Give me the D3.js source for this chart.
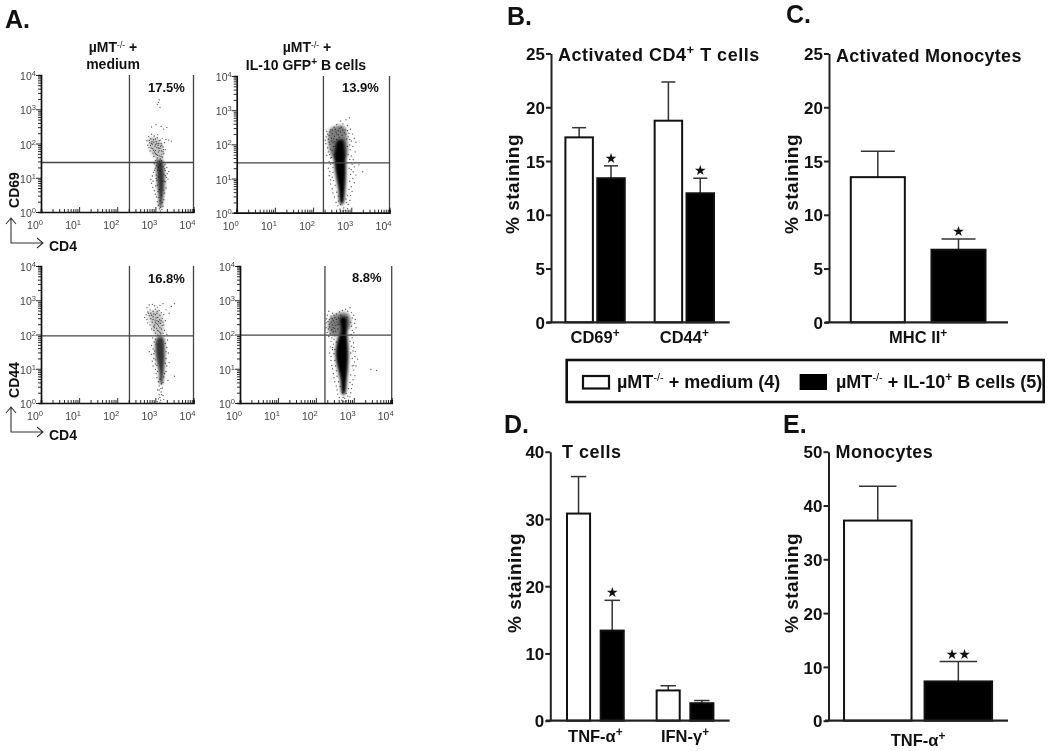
<!DOCTYPE html>
<html><head><meta charset="utf-8">
<script src="https://cdn.jsdelivr.net/npm/d3@7"></script>
<style>
html,body{margin:0;background:#fff}
svg{display:block;opacity:.999}
text{font-family:"Liberation Sans",Arial,sans-serif}
</style></head><body>
<svg id="c" width="1050" height="751"></svg>
<script>
// ---------- Bar data ----------
const bCats=["CD69|+","CD44|+"], bMedium=[17.2,18.75], bMediumTop=[18.1,22.35], bBcells=[13.4,12.0], bBcellsTop=[14.55,13.4], bStars=["★","★"];
const cCats=["MHC II|+"], cMedium=[13.5], cMediumTop=[15.9], cBcells=[6.75], cBcellsTop=[7.75], cStars=["★"];
const dCats=["TNF-α|+","IFN-γ|+"], dMedium=[30.8,4.5], dMediumTop=[36.3,5.2], dBcells=[13.4,2.6], dBcellsTop=[17.9,3.0], dStars=["★",""];
const eCats=["TNF-α|+"], eMedium=[37.2], eMediumTop=[43.6], eBcells=[7.3], eBcellsTop=[11], eStars=["★★"];
const ticks25=[0,5,10,15,20,25], ticks40=[0,10,20,30,40], ticks50=[0,10,20,30,40,50];
const groupNames=["medium","bcells"];
// ---------- Flow data: log10(CD4), log10(marker) ----------
const flowDecades=[0,1,2,3,4];
const p1Cells=[[3.08,3.2],[3.12,3.05],[3.05,3.14],[3.1,3.28],[2.9,2.48],[3.02,2.55],[3.15,2.5],[3.3,2.47],[3.22,2.42],[2.78,2.08],[2.82,2.2],[2.85,2.02],[2.88,2.14],[2.9,2.27],[2.8,1.95],[2.83,1.88],[2.92,1.98],[2.95,2.11],[2.97,2.22],[2.99,1.92],[3.02,2.05],[3.05,2.17],[3.07,1.95],[3.1,2.08],[3.12,1.86],[3.15,2.0],[3.18,2.15],[3.2,1.9],[3.24,2.02],[3.28,2.12],[3.35,2.1],[3.42,2.07],[2.86,1.78],[2.94,1.72],[3.0,1.8],[3.03,1.68],[3.08,1.75],[3.11,1.64],[3.16,1.78],[3.22,1.7],[3.26,1.82],[2.96,1.62],[3.05,1.58],[3.13,1.55],[3.19,1.6],[2.84,2.09],[2.91,2.05],[2.93,1.85],[3.01,1.97],[3.04,1.88],[3.09,2.0],[3.14,1.92],[2.87,1.94],[3.06,2.26],[2.98,1.75],[3.17,1.69],[2.97,1.41],[3.03,1.35],[3.27,1.44],[3.3,1.3],[2.98,1.22],[3.31,1.12],[2.92,1.05],[2.95,1.16],[3.29,1.01],[2.88,0.95],[2.9,0.84],[3.0,1.28],[3.26,1.21],[3.27,0.88],[2.93,0.72],[2.97,0.62],[3.0,0.52],[3.28,0.7],[3.24,0.55],[3.03,0.44],[3.05,0.3],[3.22,0.36],[3.08,0.2],[3.2,0.16],[3.11,0.09],[3.17,0.07],[3.13,0.03],[3.02,1.08],[3.04,0.92],[3.01,0.76],[3.25,1.38],[3.05,1.45],[3.07,0.6],[3.09,0.42],[3.18,0.28],[3.14,0.14],[2.94,0.9],[3.33,0.96],[3.35,1.18],
[2.9,2.0],[2.96,2.04],[3.0,2.13],[3.04,2.0],[3.08,1.87],[3.13,2.1],[3.17,1.95],[3.21,1.82],[2.89,1.87],[2.95,1.8],[3.0,1.7],[3.06,1.66],[3.1,1.8],[3.15,1.62],[3.2,1.76],[3.04,1.52],[3.1,1.48],[3.16,1.5],[3.0,1.5],[3.06,1.22],[3.08,1.02],[3.22,1.1],[3.24,0.9],[3.05,0.78],[3.22,0.64],[3.1,0.66],[3.16,0.5],[3.12,0.32],[3.18,0.9],[3.12,1.2],[3.2,1.32],[3.14,1.4],[3.08,1.3],[3.24,1.26],[3.02,0.98],[3.26,1.06]];
const p2Cells=[[2.95,2.78],[2.86,2.72],[2.72,2.68],[2.78,2.6],[2.62,2.58],[2.9,2.55],[2.55,2.5],[2.7,2.47],[2.98,2.44],[2.46,2.42],[2.36,2.38],[2.6,2.36],[2.82,2.34],[2.5,2.31],[3.03,2.3],[2.34,2.22],[2.42,2.26],[2.56,2.24],[2.68,2.21],[2.92,2.22],[3.08,2.18],[2.32,2.12],[2.4,2.15],[2.49,2.1],[2.62,2.14],[3.0,2.1],[3.12,2.06],[2.33,2.02],[2.44,2.0],[2.52,2.05],[2.96,1.98],[3.04,1.94],[2.38,1.9],[2.46,1.86],[2.53,1.94],[2.97,1.84],[3.1,1.78],[2.4,1.78],[2.36,1.68],[2.43,1.7],[2.48,1.62],[3.0,1.66],[3.05,1.55],[2.42,1.5],[2.46,1.42],[3.02,1.42],[3.08,1.34],[2.4,1.3],[2.44,1.2],[3.05,1.2],[3.12,1.1],[2.42,1.08],[2.46,0.96],[3.04,1.0],[3.08,0.88],[2.46,0.84],[2.5,0.7],[3.0,0.76],[3.02,0.62],[2.52,0.58],[2.56,0.46],[2.98,0.5],[2.96,0.36],[2.6,0.3],[2.65,0.2],[2.92,0.24],[2.9,0.12],[2.7,0.1],[2.76,0.05],[2.84,0.06],[2.8,0.14],[2.72,0.24],[2.88,0.3],[2.66,0.34],[3.2,1.4],[3.3,1.2],[2.58,2.44],[2.66,2.4],[2.74,2.5],[2.84,2.42],[2.38,2.3],[2.48,2.18],[2.44,2.36],[2.9,2.4],[2.54,2.16],
[2.5,2.42],[2.62,2.3],[2.72,2.36],[2.78,2.42],[2.86,2.3],[2.94,2.32],[2.42,2.06],[2.56,2.08],[2.66,2.28],[2.76,2.26],[2.88,2.16],[2.96,2.14],[2.5,1.82],[2.56,1.7],[2.92,1.7],[2.96,1.56],[2.52,1.46],[2.94,1.3],[2.52,1.18],[2.98,1.12],[2.54,0.94],[2.96,0.92],[2.58,0.8],[2.94,0.68],[2.62,0.6],[2.9,0.5],[2.66,0.48],[2.86,0.4],[2.74,0.36],[2.52,1.32],[2.5,1.04],[3.0,1.26],[2.46,1.6],[2.58,1.94],[2.9,1.94]];
const p3Cells=[[3.42,2.82],[3.5,2.9],[2.78,2.78],[2.84,2.86],[2.92,2.88],[2.98,2.84],[3.05,2.8],[3.12,2.85],[3.2,2.9],[3.28,2.72],[3.36,2.62],[2.76,2.58],[2.8,2.66],[2.86,2.72],[2.94,2.68],[3.0,2.74],[3.04,2.62],[3.1,2.7],[3.16,2.64],[3.22,2.58],[2.72,2.5],[2.78,2.44],[2.84,2.55],[2.88,2.46],[2.94,2.52],[2.99,2.42],[3.06,2.5],[3.11,2.43],[3.18,2.47],[3.26,2.4],[2.8,2.34],[2.86,2.28],[2.92,2.36],[2.96,2.24],[3.02,2.32],[3.08,2.25],[3.14,2.33],[3.22,2.28],[2.9,2.16],[2.96,2.12],[3.03,2.18],[3.09,2.1],[3.16,2.16],[3.24,2.12],[3.0,2.04],[3.06,1.98],[3.14,2.02],[3.3,2.0],[2.93,1.9],[2.97,1.78],[3.32,1.84],[2.9,1.68],[2.94,1.58],[3.3,1.62],[2.84,1.5],[2.9,1.42],[3.34,1.46],[2.96,1.3],[2.92,1.22],[3.28,1.3],[2.94,1.08],[3.0,1.14],[3.3,1.08],[3.0,0.98],[3.02,0.86],[3.28,0.92],[3.04,0.74],[3.22,0.76],[3.08,0.62],[3.2,0.6],[3.1,0.5],[3.18,0.44],[3.06,0.38],[3.15,0.32],[3.1,0.24],[3.2,0.22],[3.08,0.12],[3.14,0.08],[3.22,0.1],[3.05,0.04],[3.12,0.02],[3.5,0.78],[3.36,1.18],[3.33,0.66],[2.88,2.62],[3.0,2.58],[3.08,2.38],[2.98,2.28],[3.12,2.56],[3.2,2.36],[2.82,2.62],[3.05,2.68],
[2.9,2.56],[2.96,2.6],[3.02,2.48],[3.04,2.4],[2.94,2.44],[3.0,2.36],[3.06,2.3],[3.12,2.2],[3.18,2.26],[3.1,2.34],[3.15,2.4],[2.97,2.2],[3.06,2.12],[3.12,2.06],[3.2,2.04],[3.0,1.86],[3.02,1.72],[3.26,1.74],[2.98,1.52],[2.96,1.44],[3.28,1.5],[3.0,1.26],[3.26,1.16],[3.04,1.1],[3.06,0.92],[3.24,0.86],[3.12,0.7],[3.16,0.56],[3.14,0.42],[3.12,0.16],[3.16,0.24],[3.1,0.38]];
const p4Cells=[[2.9,2.78],[2.78,2.74],[2.7,2.7],[2.84,2.68],[2.62,2.66],[2.94,2.64],[2.34,2.68],[2.44,2.62],[2.54,2.6],[3.0,2.56],[2.3,2.56],[2.4,2.54],[2.5,2.5],[2.96,2.48],[3.04,2.44],[2.28,2.46],[2.36,2.44],[2.46,2.4],[2.56,2.36],[2.92,2.36],[3.02,2.32],[2.28,2.34],[2.36,2.3],[2.44,2.28],[2.52,2.26],[2.94,2.24],[3.06,2.2],[2.27,2.2],[2.33,2.16],[2.42,2.14],[2.5,2.18],[2.96,2.12],[3.0,2.06],[2.3,2.06],[2.38,2.02],[2.46,2.08],[2.93,2.0],[2.34,1.94],[2.42,1.9],[2.5,1.96],[2.96,1.9],[2.4,1.8],[2.46,1.72],[2.99,1.76],[2.38,1.64],[2.44,1.56],[3.0,1.62],[3.04,1.5],[2.36,1.46],[2.4,1.36],[3.03,1.36],[3.1,1.28],[2.4,1.24],[2.42,1.1],[3.02,1.2],[3.06,1.08],[2.44,1.0],[2.46,0.86],[3.0,0.96],[3.03,0.8],[2.48,0.74],[2.5,0.62],[2.98,0.68],[2.96,0.54],[2.54,0.5],[2.56,0.38],[2.94,0.42],[2.92,0.3],[2.58,0.26],[2.62,0.16],[2.9,0.18],[2.86,0.08],[2.68,0.08],[2.74,0.04],[2.8,0.06],[2.72,0.16],[2.84,0.2],[3.45,0.98],[3.6,0.95],[2.6,2.3],[2.72,2.44],[2.82,2.5],[2.66,2.56],[2.4,2.48],[2.54,2.44],[2.32,2.38],[2.48,2.56],
[2.4,2.36],[2.5,2.34],[2.44,2.46],[2.36,2.22],[2.46,2.2],[2.56,2.28],[2.6,2.48],[2.68,2.36],[2.52,2.1],[2.58,2.16],[2.48,1.86],[2.54,1.78],[2.9,1.8],[2.94,1.66],[2.5,1.56],[2.48,1.44],[2.92,1.46],[2.96,1.3],[2.5,1.24],[2.52,1.08],[2.96,1.08],[2.54,0.94],[2.92,0.82],[2.56,0.78],[2.6,0.62],[2.9,0.6],[2.64,0.48],[2.86,0.42],[2.7,0.3],[2.8,0.28],[2.76,0.14],[2.44,1.62],[2.98,1.52],[3.0,1.1]];
const p1Core=[[3.04,1.5],[3.18,1.52],[3.23,1.2],[3.24,0.8],[3.2,0.4],[3.16,0.14],[3.11,0.12],[3.09,0.4],[3.05,0.85],[3.03,1.2]];
const p2Core=[[2.62,2.1],[2.78,2.14],[2.84,1.8],[2.86,1.3],[2.84,0.7],[2.78,0.25],[2.72,0.25],[2.66,0.7],[2.57,1.3],[2.55,1.7],[2.58,1.9]];
const p3Core=[[3.04,1.9],[3.2,1.92],[3.25,1.5],[3.23,1.0],[3.17,0.55],[3.13,0.55],[3.09,0.95],[3.01,1.4]];
const p4Core=[[2.64,2.5],[2.8,2.5],[2.82,2.1],[2.86,1.4],[2.82,0.7],[2.76,0.25],[2.7,0.25],[2.64,0.7],[2.52,1.4],[2.58,1.9],[2.66,2.1]];
const p1Lobe=[[2.84,2.16],[3.05,2.16],[3.2,1.9],[3.18,1.56],[3.0,1.56],[2.87,1.8]];
const p2Lobe=[[2.44,2.44],[2.8,2.54],[2.9,2.1],[2.86,1.6],[2.52,1.6],[2.4,2.0]];
const p3Lobe=[[2.82,2.64],[3.1,2.68],[3.22,2.3],[3.18,1.96],[3.02,1.96],[2.88,2.3]];
const p4Lobe=[[2.36,2.44],[2.64,2.64],[2.86,2.6],[2.9,2.2],[2.46,1.96],[2.34,2.1]];

const svg=d3.select("#c");
const defs=svg.append("defs");
defs.append("filter").attr("id","soft").append("feGaussianBlur").attr("stdDeviation",0.3);
defs.append("filter").attr("id","soft2").attr("x","-40%").attr("width","180%").append("feGaussianBlur").attr("stdDeviation",1.5);

function rich(sel,str){ // "base|sup|tail"
  const p=str.split("|"), fs=+sel.attr("font-size")||16, up=fs*0.38;
  sel.text(null);
  sel.append("tspan").text(p[0]);
  if(p[1]) sel.append("tspan").attr("dy",-up).attr("font-size",fs*0.72).text(p[1]);
  if(p[2]) sel.append("tspan").attr("dy",up).text(p[2]);
  return sel;
}
function label(x,y,str,size,anchor,extra){
  const t=svg.append("text").attr("x",x).attr("y",y).attr("font-size",size).attr("font-weight","bold")
    .attr("text-anchor",anchor||"start").attr("fill","#111");
  if(extra) extra(t);
  return rich(t,str);
}
// ---------- Panel letters ----------
[["A.",5,28],["B.",507,25],["C.",786,23],["D.",504,433],["E.",783,433]].forEach(d=>label(d[1],d[2],d[0],25));

// ---------- Bar panels ----------
function barPanel(o){
  const g=svg.append("g");
  const y=d3.scaleLinear().domain([0,o.max]).range([o.y0,o.y1]);
  const x0=d3.scaleBand().domain(o.cats).range(o.xr).paddingInner(o.pOuter).paddingOuter(0);
  const x1=d3.scaleBand().domain(groupNames).range([0,x0.bandwidth()]).paddingInner(o.pInner).paddingOuter(0);
  const ya=g.append("g").attr("transform",`translate(${o.ax},0)`).call(d3.axisLeft(y).tickValues(o.ticks).tickSize(5).tickSizeOuter(0));
  ya.select(".domain").attr("stroke-width",2).attr("stroke","#222");
  ya.selectAll(".tick line").attr("stroke-width",2).attr("stroke","#222");
  ya.selectAll(".tick text").attr("font-size",17).attr("font-weight","bold").attr("font-family","Liberation Sans").attr("fill","#111").attr("x",-6).attr("dy","0.36em");
  o.cats.forEach((c,i)=>{
    [[ "medium",o.med,o.medTop],["bcells",o.bc,o.bcTop]].forEach(([n,v,t])=>{
      const bx=x0(c)+x1(n),w=x1.bandwidth(),cx=bx+w/2;
      g.append("line").attr("x1",cx).attr("x2",cx).attr("y1",y(v[i])).attr("y2",y(t[i])).attr("stroke","#333").attr("stroke-width",1.5);
      g.append("line").attr("x1",cx-o.cap).attr("x2",cx+o.cap).attr("y1",y(t[i])).attr("y2",y(t[i])).attr("stroke","#333").attr("stroke-width",1.5);
      g.append("rect").attr("x",bx).attr("y",y(v[i])).attr("width",w).attr("height",y(0)-y(v[i]))
       .attr("fill",n==="medium"?"#fff":"#000").attr("stroke","#111").attr("stroke-width",2);
      if(n==="bcells"&&o.stars[i]) g.append("text").attr("x",cx).attr("y",y(t[i])-3).attr("text-anchor","middle")
        .attr("font-size",14).attr("style","font-family:'DejaVu Sans'").attr("fill","#111").text(o.stars[i]);
    });
  });
  const xa=g.append("g").attr("transform",`translate(0,${o.y0})`).call(d3.axisBottom(x0).tickSize(0).tickFormat(d=>d));
  xa.select(".domain").remove();
  g.append("line").attr("x1",o.base[0]).attr("x2",o.base[1]).attr("y1",y(0)).attr("y2",y(0)).attr("stroke","#222").attr("stroke-width",2.2);
  xa.selectAll(".tick text").each(function(d){
    const t=d3.select(this).attr("font-size",16.5).attr("font-weight","bold").attr("fill","#111").attr("y",o.lab).attr("dy",0).attr("text-anchor","middle");
    rich(t,d);
  });
  label(o.titleX,o.titleY,o.title,18,"start",t=>t.attr("letter-spacing",o.ls));
  g.append("text").attr("transform",`translate(${o.yl[0]},${o.yl[1]}) rotate(-90)`).attr("text-anchor","middle")
    .attr("font-size",19).attr("font-weight","bold").attr("fill","#111").attr("letter-spacing",0.5).text("% staining");
}
barPanel({cats:bCats,med:bMedium,medTop:bMediumTop,bc:bBcells,bcTop:bBcellsTop,stars:bStars,max:25,ticks:ticks25,y0:322.3,y1:53.5,ax:551,xr:[565.4,714],pOuter:.335,pInner:.1375,cap:7,base:[546.5,729.7],lab:21,title:"Activated CD4|+| T cells",ls:.5,titleX:558,titleY:61,yl:[519,184]});
barPanel({cats:cCats,med:cMedium,medTop:cMediumTop,bc:cBcells,bcTop:cBcellsTop,stars:cStars,max:25,ticks:ticks25,y0:322.3,y1:53.5,ax:829,xr:[843.3,993],pOuter:.1,pInner:.33,cap:17,base:[825.4,1008],lab:21,title:"Activated Monocytes",ls:.3,titleX:836,titleY:62,yl:[798,184]});
barPanel({cats:dCats,med:dMedium,medTop:dMediumTop,bc:dBcells,bcTop:dBcellsTop,stars:dStars,max:40,ticks:ticks40,y0:720.7,y1:451.7,ax:550.3,xr:[567,713.4],pOuter:.367,pInner:.315,cap:7.7,base:[546,729.6],lab:21.5,title:"T cells",ls:.5,titleX:562,titleY:458,yl:[521,583]});
barPanel({cats:eCats,med:eMedium,medTop:eMediumTop,bc:eBcells,bcTop:eBcellsTop,stars:eStars,max:50,ticks:ticks50,y0:720.7,y1:451.7,ax:828.5,xr:[835.8,1000.3],pOuter:.1,pInner:.162,cap:18.7,base:[825,1008],lab:25.5,title:"Monocytes",ls:.4,titleX:835.5,titleY:458,yl:[798,583]});

// ---------- Legend ----------
svg.append("rect").attr("x",566.7).attr("y",360).attr("width",477).attr("height",42).attr("fill","#fff").attr("stroke","#111").attr("stroke-width",2.6);
svg.append("rect").attr("x",583).attr("y",376).attr("width",26).attr("height",12.5).attr("fill","#fff").attr("stroke","#111").attr("stroke-width",2.2);
svg.append("rect").attr("x",799.6).attr("y",374).attr("width",27.4).attr("height",16).attr("fill","#000");
function legendText(x,tail,sup,tail2){
  const t=svg.append("text").attr("x",x).attr("y",388).attr("font-size",18).attr("font-weight","bold").attr("fill","#111");
  t.append("tspan").text("µMT");
  t.append("tspan").attr("dy",-7).attr("font-size",11).attr("font-weight","normal").text("-/-");
  t.append("tspan").attr("dy",7).text(tail);
  if(sup){t.append("tspan").attr("dy",-7).attr("font-size",12).text(sup);
  t.append("tspan").attr("dy",7).text(tail2);}
}
legendText(617," + medium (4)");
legendText(836," + IL-10","+"," B cells (5)");

// ---------- Flow panels ----------
function flow(o){
  const g=svg.append("g");
  const x=d3.scaleLog().domain([1,1e4]).range(o.x);
  const y=d3.scaleLog().domain([1,1e4]).range(o.y);
  const pw=v=>Math.pow(10,v);
  const line=d3.line().x(d=>x(pw(d[0]))).y(d=>y(pw(d[1]))).curve(d3.curveCatmullRomClosed);
  g.append("path").attr("d",line(o.lobe)).attr("fill","#000").attr("opacity",o.lobeOp).attr("filter","url(#soft2)");
  g.append("path").attr("d",line(o.core)).attr("fill","#000").attr("opacity",o.coreOp).attr("filter","url(#soft2)");
  g.append("g").attr("filter","url(#soft)").selectAll("circle").data(o.cells).join("circle")
    .attr("cx",d=>x(pw(d[0]))).attr("cy",d=>y(pw(d[1]))).attr("r",0.7).attr("fill","#000").attr("opacity",.62);
  [[x(pw(o.vg)),x(pw(o.vg)),o.y[0],o.y[1]],[o.x[1],o.x[1],o.y[0],o.y[1]],[o.x[0],o.x[1],y(pw(o.hg)),y(pw(o.hg))]].forEach(l=>
    g.append("line").attr("x1",l[0]).attr("x2",l[1]).attr("y1",l[2]).attr("y2",l[3]).attr("stroke","#444").attr("stroke-width",1.3));
  const minors=x.ticks(), isMajor=v=>Math.abs(Math.log10(v)%1)<1e-6;
  const xa=g.append("g").attr("transform",`translate(0,${o.y[0]})`).call(d3.axisBottom(x).tickValues(minors).tickSize(-3).tickFormat(""));
  const ya=g.append("g").attr("transform",`translate(${o.x[0]},0)`).call(d3.axisLeft(y).tickValues(minors).tickSize(3).tickFormat(""));
  [xa,ya].forEach(a=>{a.select(".domain").attr("stroke","#111").attr("stroke-width",1.7);
    a.selectAll(".tick line").attr("stroke","#111").attr("stroke-width",.9);});
  xa.selectAll(".tick line").filter(isMajor).attr("y2",-5);
  ya.selectAll(".tick line").filter(isMajor).attr("x2",-5);
  flowDecades.forEach(k=>{
    const a=svg.append("text").attr("x",x(pw(k))-6).attr("y",o.y[0]+17).attr("text-anchor","middle").attr("font-size",10.5).attr("fill","#444");
    rich(a,"10|"+k);
    const b=svg.append("text").attr("x",o.x[0]-5).attr("y",y(pw(k))+5).attr("text-anchor","end").attr("font-size",10.5).attr("fill","#444");
    rich(b,"10|"+k);
  });
  label(o.pct[0],o.pct[1],o.pctText,13);
}
flow({x:[41,193.5],y:[212,75],vg:2.32,hg:1.445,cells:p1Cells,core:p1Core,lobe:p1Lobe,coreOp:.8,lobeOp:.22,pct:[148,92],pctText:"17.5%"});
flow({x:[236.7,389.5],y:[212.7,76],vg:2.27,hg:1.46,cells:p2Cells,core:p2Core,lobe:p2Lobe,coreOp:1,lobeOp:.5,pct:[342,92],pctText:"13.9%"});
flow({x:[41,193.5],y:[403,266],vg:2.32,hg:1.96,cells:p3Cells,core:p3Core,lobe:p3Lobe,coreOp:.8,lobeOp:.22,pct:[148,283],pctText:"16.8%"});
flow({x:[240,391.7],y:[403,266],vg:2.24,hg:1.98,cells:p4Cells,core:p4Core,lobe:p4Lobe,coreOp:1,lobeOp:.5,pct:[352,282],pctText:"8.8%"});

// ---------- Flow captions ----------
function mut(x,y){
  const t=svg.append("text").attr("x",x).attr("y",y).attr("text-anchor","middle").attr("font-size",14).attr("font-weight","bold").attr("fill","#111");
  t.append("tspan").text("µMT");
  t.append("tspan").attr("dy",-4).attr("font-size",8.5).attr("font-weight","normal").text("-/-");
  t.append("tspan").attr("dy",4).text(" +");
}
mut(113,52); label(113,69,"medium",14,"middle");
mut(307,52); label(306,70,"IL-10 GFP|+| B cells",14,"middle");

[["CD69",19,190],["CD44",19,380]].forEach(d=>{
  svg.append("text").attr("transform",`translate(${d[1]},${d[2]}) rotate(-90)`).attr("text-anchor","middle").attr("font-size",14).attr("font-weight","bold").attr("fill","#111").text(d[0]);
});
[243,432].forEach(c=>{
  const arrow=d3.path();
  arrow.moveTo(11,c-25);arrow.lineTo(11,c);arrow.lineTo(43,c);
  arrow.moveTo(6,c-19);arrow.lineTo(11,c-25);arrow.lineTo(16,c-19);
  arrow.moveTo(37,c-5);arrow.lineTo(43,c);arrow.lineTo(37,c+5);
  svg.append("path").attr("d",arrow.toString()).attr("fill","none").attr("stroke","#333").attr("stroke-width",1.1);
  label(49,c+8,"CD4",14);
});
</script>
</body></html>
